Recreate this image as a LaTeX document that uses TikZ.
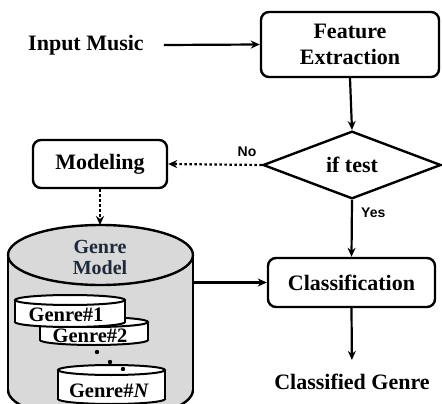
\documentclass[tikz,border=0pt]{standalone}
\usepackage{fontspec}
\setmainfont{Liberation Serif}
\newfontfamily\labelfont{Liberation Sans}
\usetikzlibrary{arrows.meta,shapes.geometric}

\definecolor{dbgray}{RGB}{217,217,217}
\definecolor{titleink}{RGB}{30,42,58}

\begin{document}
\begin{tikzpicture}[x=1pt,y=-1pt,
  box/.style={draw, line width=2.4pt, rounded corners=8pt, fill=white,
    font=\fontsize{22}{26}\selectfont\bfseries, align=center, inner sep=0pt},
  txt/.style={font=\fontsize{22}{26}\selectfont\bfseries, inner sep=0pt, align=center},
  disktxt/.style={font=\fontsize{20.5}{24}\selectfont\bfseries, inner sep=0pt, anchor=base},
  lbl/.style={font=\labelfont\fontsize{14}{16}\selectfont\bfseries, inner sep=0pt},
  flow/.style={line width=2.2pt, -{Stealth[length=9pt,width=8pt]}},
  dotflow/.style={flow, dash pattern=on 2.5pt off 2.5pt},
  rim/.style={line width=2.4pt},
  diskrim/.style={line width=2pt},
]
\useasboundingbox (0,0) rectangle (442,404);
\clip (0,0) rectangle (442,404);

% process boxes
\node[box, minimum width=178pt, minimum height=65pt] (fe) at (350,44.5) {Feature\\Extraction};
\node[box, minimum width=134pt, minimum height=48pt] (mod) at (100,164) {Modeling};
\node[box, minimum width=167pt, minimum height=49pt] (cls) at (351.5,282.5) {Classification};
\node[diamond, draw, line width=2.4pt, minimum width=178pt, minimum height=64pt,
      inner sep=0pt, font=\fontsize{22}{26}\selectfont\bfseries] (test) at (352,165) {if test};

% free texts
\node[txt] (in) at (86,45) {Input Music};
\node[txt] (out) at (352,382) {Classified Genre};

% genre model database
\fill[dbgray] (8,255) rectangle (193,390);
\fill[dbgray] (100.5,390) ellipse [x radius=92.5, y radius=30];
\begin{scope}
  \clip (0,390) rectangle (442,430);
  \draw[rim] (100.5,390) ellipse [x radius=92.5, y radius=30];
\end{scope}
\draw[rim] (8,255) -- (8,390);
\draw[rim] (193,255) -- (193,390);
\draw[rim, fill=dbgray] (100.5,255) ellipse [x radius=92.5, y radius=30];
\coordinate (gmtop) at (100,225);
\coordinate (gmside) at (193,282.5);
\node[font=\fontsize{20}{21}\selectfont\bfseries, text=titleink, align=center, inner sep=0pt]
  (gmtitle) at (100,257) {Genre\\Model};

% stored genre disks: left, right, top rim centre, bottom rim centre
\foreach \L/\R/\T/\B in {40/148/322/340, 15/125/300/322, 58/165/370/399}{
  \fill[white] (\L,\T) rectangle (\R,\B);
  \fill[white] ({(\L+\R)/2},\B) ellipse [x radius={(\R-\L)/2}, y radius=5];
  \begin{scope}
    \clip (0,\B) rectangle (442,\B+10);
    \draw[diskrim] ({(\L+\R)/2},\B) ellipse [x radius={(\R-\L)/2}, y radius=5];
  \end{scope}
  \draw[diskrim] (\L,\T) -- (\L,\B);
  \draw[diskrim] (\R,\T) -- (\R,\B);
  \draw[diskrim, fill=white] ({(\L+\R)/2},\T) ellipse [x radius={(\R-\L)/2}, y radius=5];
}
\node[disktxt] (g1) at (66,321) {Genre\#1};
\node[disktxt] (g2) at (90,342) {Genre\#2};
\node[disktxt] (gn) at (109,397) {Genre\#\textit{N}};
\foreach \px/\py in {97/352, 110/362, 123/369}
  \fill (\px,\py) circle [radius=2.2];

% connectors
\draw[flow] ([xshift=20pt]in.east) -- (fe.west);
\draw[flow] (fe.south) -- (test.north);
\draw[dotflow] (test.west) -- (mod.east);
\draw[dotflow] (mod.south) -- (gmtop);
\draw[flow] (test.south) -- (cls.north);
\draw[flow] (gmside) -- (cls.west);
\draw[flow, shorten >=14pt] (cls.south) -- (out.north);

% branch labels
\node[lbl] (no) at (247,152) {No};
\node[lbl, anchor=west] (yes) at (361,213) {Yes};
\end{tikzpicture}
\end{document}
